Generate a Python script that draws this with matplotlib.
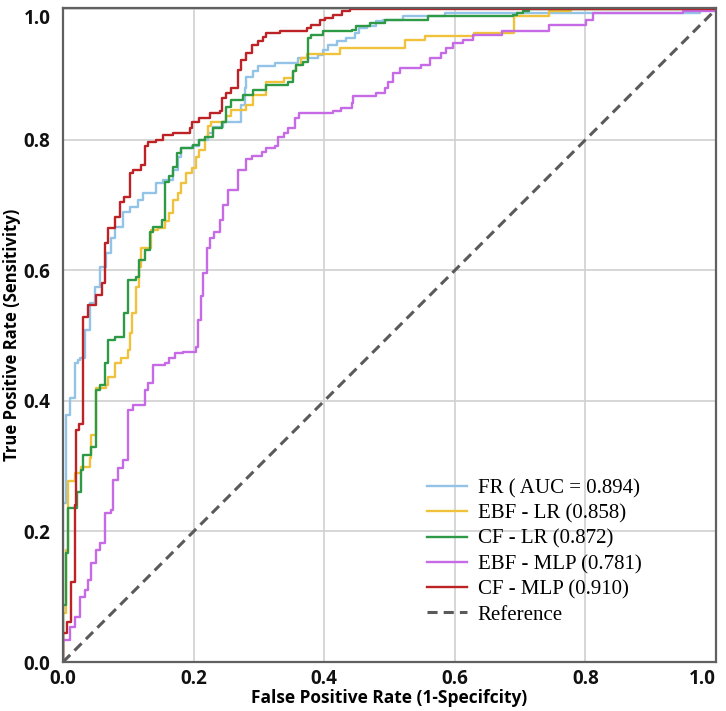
import matplotlib
matplotlib.use("Agg")
import matplotlib.pyplot as plt

# ---- data ----
labels = ["FR ( AUC = 0.894)", "EBF - LR (0.858)", "CF - LR (0.872)",
          "EBF - MLP (0.781)", "CF - MLP (0.910)"]

fpr_fr = [0, 0, 0.005, 0.010, 0.018, 0.023, 0.026, 0.033, 0.041, 0.049,
          0.056, 0.066, 0.074, 0.079, 0.092, 0.102, 0.115, 0.122, 0.143, 0.153,
          0.168, 0.176, 0.181, 0.197, 0.209, 0.222, 0.230, 0.245, 0.273, 0.278,
          0.281, 0.291, 0.299, 0.324, 0.360, 0.390, 0.398, 0.406, 0.419, 0.434,
          0.447, 0.454, 0.465, 0.480, 0.490, 0.521, 0.585, 0.975, 1.0]
tpr_fr = [0, 0.243, 0.378, 0.404, 0.458, 0.463, 0.465, 0.508, 0.550, 0.575,
          0.605, 0.626, 0.649, 0.667, 0.690, 0.697, 0.708, 0.718, 0.734, 0.739,
          0.754, 0.774, 0.787, 0.790, 0.800, 0.811, 0.820, 0.828, 0.854, 0.879,
          0.897, 0.905, 0.913, 0.918, 0.925, 0.930, 0.938, 0.946, 0.951, 0.956,
          0.964, 0.971, 0.974, 0.982, 0.984, 0.989, 0.995, 1.0, 1.0]

fpr_ebf_lr = [0, 0, 0.005, 0.008, 0.018, 0.028, 0.041, 0.043, 0.051, 0.066,
              0.069, 0.079, 0.089, 0.100, 0.102, 0.105, 0.112, 0.117, 0.120, 0.135,
              0.146, 0.156, 0.163, 0.168, 0.176, 0.181, 0.189, 0.197, 0.204, 0.209,
              0.217, 0.222, 0.227, 0.250, 0.258, 0.281, 0.291, 0.311, 0.339, 0.352,
              0.357, 0.365, 0.373, 0.424, 0.523, 0.554, 0.630, 0.691, 0.745, 0.778,
              1.0]
tpr_ebf_lr = [0, 0.075, 0.171, 0.278, 0.289, 0.299, 0.312, 0.348, 0.420, 0.424,
              0.437, 0.458, 0.465, 0.478, 0.504, 0.534, 0.575, 0.605, 0.634, 0.662,
              0.665, 0.675, 0.688, 0.708, 0.718, 0.734, 0.749, 0.757, 0.774, 0.785,
              0.805, 0.821, 0.828, 0.836, 0.846, 0.854, 0.869, 0.889, 0.895, 0.905,
              0.915, 0.926, 0.931, 0.940, 0.953, 0.959, 0.964, 0.989, 0.997, 1.0,
              1.0]

fpr_cf_lr = [0, 0, 0.005, 0.008, 0.021, 0.028, 0.031, 0.043, 0.051, 0.056,
             0.064, 0.069, 0.079, 0.094, 0.100, 0.112, 0.117, 0.125, 0.133, 0.138,
             0.151, 0.156, 0.163, 0.168, 0.174, 0.181, 0.199, 0.209, 0.217, 0.230,
             0.243, 0.250, 0.258, 0.276, 0.291, 0.311, 0.345, 0.352, 0.357, 0.368,
             0.375, 0.380, 0.398, 0.442, 0.449, 0.470, 0.493, 0.559, 0.689, 0.696,
             0.704, 0.714, 1.0]
tpr_cf_lr = [0, 0.087, 0.167, 0.236, 0.261, 0.294, 0.317, 0.330, 0.417, 0.424,
             0.458, 0.493, 0.498, 0.534, 0.585, 0.590, 0.616, 0.631, 0.659, 0.667,
             0.677, 0.736, 0.744, 0.759, 0.780, 0.787, 0.792, 0.800, 0.805, 0.818,
             0.828, 0.851, 0.861, 0.869, 0.877, 0.884, 0.889, 0.905, 0.915, 0.920,
             0.956, 0.961, 0.966, 0.969, 0.974, 0.979, 0.984, 0.989, 0.992, 0.995,
             0.997, 1.0, 1.0]

fpr_ebf_mlp = [0, 0, 0.010, 0.018, 0.026, 0.033, 0.038, 0.043, 0.051, 0.056,
               0.064, 0.074, 0.077, 0.084, 0.092, 0.100, 0.107, 0.125, 0.130, 0.138,
               0.156, 0.163, 0.171, 0.184, 0.204, 0.207, 0.212, 0.214, 0.220, 0.225,
               0.232, 0.240, 0.245, 0.253, 0.268, 0.281, 0.289, 0.304, 0.311, 0.324,
               0.329, 0.339, 0.345, 0.355, 0.362, 0.413, 0.426, 0.442, 0.444, 0.480,
               0.493, 0.498, 0.505, 0.516, 0.549, 0.562, 0.579, 0.587, 0.597, 0.613,
               0.628, 0.673, 0.745, 0.801, 0.812, 0.949, 0.998, 1.0]
tpr_ebf_mlp = [0, 0.033, 0.054, 0.069, 0.100, 0.110, 0.125, 0.151, 0.171, 0.182,
               0.228, 0.233, 0.279, 0.297, 0.310, 0.386, 0.394, 0.417, 0.427, 0.455,
               0.458, 0.465, 0.473, 0.475, 0.483, 0.524, 0.560, 0.596, 0.634, 0.649,
               0.659, 0.677, 0.700, 0.723, 0.754, 0.770, 0.775, 0.782, 0.787, 0.790,
               0.805, 0.810, 0.818, 0.833, 0.841, 0.844, 0.849, 0.857, 0.867, 0.872,
               0.880, 0.889, 0.902, 0.910, 0.915, 0.926, 0.933, 0.941, 0.948, 0.953,
               0.961, 0.966, 0.976, 0.984, 0.995, 0.997, 1.0, 1.0]

fpr_cf_mlp = [0, 0, 0.006, 0.013, 0.018, 0.020, 0.025, 0.030, 0.038, 0.051,
              0.059, 0.064, 0.069, 0.079, 0.087, 0.094, 0.102, 0.107, 0.120, 0.125,
              0.130, 0.143, 0.153, 0.168, 0.194, 0.197, 0.209, 0.225, 0.240, 0.243,
              0.250, 0.258, 0.268, 0.273, 0.281, 0.289, 0.299, 0.306, 0.311, 0.332,
              0.373, 0.380, 0.393, 0.401, 0.413, 0.428, 0.440, 1.0]
tpr_cf_mlp = [0, 0.044, 0.061, 0.123, 0.240, 0.355, 0.365, 0.529, 0.547, 0.562,
              0.580, 0.642, 0.665, 0.682, 0.705, 0.712, 0.749, 0.754, 0.762, 0.790,
              0.797, 0.800, 0.808, 0.811, 0.818, 0.828, 0.834, 0.841, 0.844, 0.864,
              0.872, 0.880, 0.907, 0.923, 0.933, 0.946, 0.951, 0.958, 0.964, 0.966,
              0.972, 0.976, 0.983, 0.987, 0.992, 0.997, 1.0, 1.0]

ref_x = [0, 1]
ref_y = [0, 1]
ticks = [0.0, 0.2, 0.4, 0.6, 0.8, 1.0]
tick_labels = ["0.0", "0.2", "0.4", "0.6", "0.8", "1.0"]

colors = ["#93c3e6", "#f0c23c", "#2f9a45", "#c76ae6", "#bd2226"]
series = [(fpr_fr, tpr_fr), (fpr_ebf_lr, tpr_ebf_lr), (fpr_cf_lr, tpr_cf_lr),
          (fpr_ebf_mlp, tpr_ebf_mlp), (fpr_cf_mlp, tpr_cf_mlp)]

# ---- figure ----
fig = plt.figure(figsize=(7.26, 7.11), dpi=100)
ax = fig.add_axes([63 / 726, 1 - 662 / 711, (716 - 63) / 726, (662 - 8) / 711])

ax.grid(True, color="#d0d0d0", linewidth=1.2)
ax.set_axisbelow(True)

handles = []
for (fx, ty), c, lab in zip(series, colors, labels):
    h, = ax.plot(fx, ty, drawstyle="steps-post", color=c, lw=1.7, label=lab)
    handles.append(h)
href, = ax.plot(ref_x, ref_y, color="#5a5a5a", lw=2.2, ls=(0, (3.3, 2.0)),
                label="Reference")
handles.append(href)

ax.set_xlim(0, 1.0)
ax.set_ylim(0, 1.002)
ax.set_xticks(ticks)
ax.set_yticks(ticks)
tfont = dict(family="Open Sans", weight="bold", size=13.5)
ax.set_xticklabels(tick_labels, fontdict=tfont)
ax.set_yticklabels(tick_labels, fontdict=tfont)
ax.tick_params(length=0, colors="#111111")
ax.tick_params(axis="x", pad=5)
ax.tick_params(axis="y", pad=9)
ax.get_yticklabels()[-1].set_va("top")
ax.get_xticklabels()[-1].set_ha("right")

for s in ax.spines.values():
    s.set_color("#606060")
    s.set_linewidth(1.6)

ax.set_xlabel("False Positive Rate (1-Specifcity)", family="Open Sans",
              weight="bold", size=12.5, labelpad=0)
ax.set_ylabel("True Positive Rate (Sensitivity)", family="Open Sans",
              weight="bold", size=12, labelpad=2)

leg = ax.legend(handles=handles, loc="upper left", bbox_to_anchor=(0.557, 0.280),
                frameon=False, prop=dict(family="Liberation Serif", size=15),
                handlelength=1.95, handletextpad=0.5, labelspacing=0.27,
                borderpad=0.0, borderaxespad=0.0)

fig.savefig("out.png", dpi=100)
